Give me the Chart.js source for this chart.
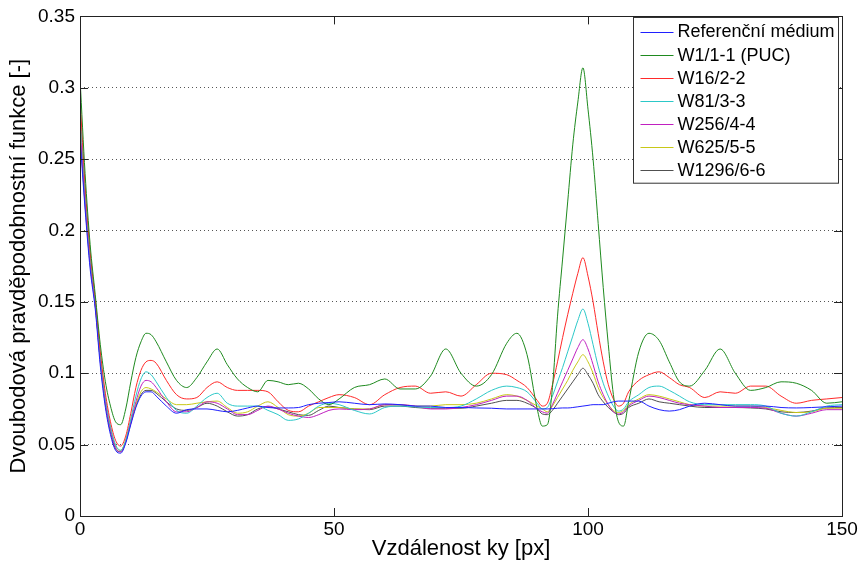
<!DOCTYPE html>
<html>
<head>
<meta charset="utf-8">
<script src="https://cdn.jsdelivr.net/npm/chart.js@4.4.1/dist/chart.umd.min.js"></script>
<style>
  html, body { margin: 0; padding: 0; background: #fff; }
  canvas { display: block; }
</style>
</head>
<body>
<canvas id="chart" width="860" height="568"></canvas>
<script>
// distance ky [px] where values were read
const ky = [0,1,2,3,4,5,6,7,8,9,10,11,12,13,14,15,
  17,19,21,23,25,27,29,31,33,35,37,39,41,43,45,47,49,51,
  54,57,60,63,66,69,72,75,78,81,84,
  86,88,90,
  91,92,93,94,95,96,97,98,99,100,101,102,103,104,105,106,107,108,
  110,112,114,116,118,120,
  123,126,129,132,135,138,141,144,147,150];

const refMedium = [0.265,0.215,0.173,0.145,0.105,0.076,0.057,0.046,0.044,0.051,0.064,0.076,0.084,0.087,0.087,0.084,
  0.077,0.072,0.0745,0.075,0.075,0.074,0.073,0.074,0.0757,0.077,0.076,0.0757,0.0757,0.076,0.078,0.079,0.0795,0.080,
  0.079,0.078,0.0785,0.078,0.077,0.077,0.076,0.076,0.0757,0.0755,0.075,
  0.075,0.075,0.075,
  0.075,0.075,0.0752,0.0755,0.0757,0.0757,0.076,0.0765,0.077,0.0775,0.078,0.078,0.078,0.079,0.080,0.0805,0.0805,0.0805,
  0.0805,0.077,0.0745,0.0735,0.0745,0.077,
  0.079,0.078,0.077,0.077,0.077,0.076,0.0757,0.076,0.0765,0.077];

const w1 = [0.307,0.24,0.19,0.155,0.12,0.094,0.077,0.066,0.064,0.075,0.094,0.111,0.122,0.128,0.127,0.122,
  0.108,0.095,0.090,0.097,0.108,0.117,0.106,0.096,0.090,0.087,0.095,0.094,0.092,0.093,0.089,0.082,0.078,0.082,
  0.090,0.092,0.096,0.089,0.089,0.098,0.117,0.100,0.091,0.099,0.121,
  0.128,0.113,0.075,
  0.063,0.064,0.09,0.14,0.18,0.22,0.26,0.29,0.314,0.285,0.25,0.205,0.16,0.12,0.085,0.066,0.063,0.08,
  0.115,0.128,0.123,0.108,0.094,0.091,
  0.102,0.117,0.100,0.088,0.090,0.094,0.093,0.088,0.079,0.080];

const w16 = [0.293,0.232,0.185,0.152,0.115,0.086,0.066,0.053,0.049,0.056,0.072,0.090,0.102,0.108,0.109,0.107,
  0.095,0.085,0.082,0.083,0.090,0.094,0.090,0.088,0.088,0.088,0.087,0.080,0.074,0.073,0.077,0.080,0.083,0.085,
  0.083,0.078,0.085,0.090,0.091,0.086,0.087,0.084,0.092,0.100,0.099,
  0.095,0.090,0.081,
  0.077,0.079,0.092,0.108,0.125,0.141,0.156,0.170,0.181,0.168,0.150,0.128,0.108,0.092,0.082,0.077,0.079,0.087,
  0.095,0.099,0.101,0.097,0.092,0.090,
  0.083,0.087,0.086,0.091,0.091,0.084,0.079,0.081,0.082,0.083];

const w81 = [0.285,0.228,0.182,0.150,0.112,0.083,0.063,0.050,0.046,0.053,0.068,0.084,0.096,0.101,0.099,0.094,
  0.083,0.074,0.072,0.077,0.083,0.086,0.079,0.077,0.077,0.077,0.074,0.071,0.067,0.068,0.072,0.077,0.079,0.078,
  0.074,0.0715,0.076,0.077,0.0765,0.076,0.076,0.077,0.082,0.088,0.091,
  0.090,0.087,0.079,
  0.075,0.076,0.084,0.094,0.104,0.115,0.126,0.137,0.145,0.135,0.12,0.105,0.093,0.084,0.077,0.0735,0.075,0.080,
  0.085,0.090,0.091,0.088,0.084,0.080,
  0.078,0.078,0.078,0.078,0.077,0.072,0.070,0.073,0.077,0.078];

const w256 = [0.275,0.222,0.178,0.148,0.110,0.080,0.061,0.048,0.045,0.052,0.066,0.080,0.091,0.095,0.094,0.090,
  0.080,0.073,0.073,0.076,0.080,0.079,0.075,0.071,0.071,0.074,0.077,0.075,0.072,0.070,0.069,0.071,0.074,0.075,
  0.0745,0.075,0.078,0.078,0.077,0.075,0.075,0.076,0.078,0.081,0.084,
  0.084,0.081,0.075,
  0.073,0.072,0.078,0.086,0.094,0.102,0.110,0.118,0.1235,0.117,0.106,0.094,0.085,0.078,0.073,0.0715,0.073,0.077,
  0.081,0.084,0.083,0.081,0.079,0.078,
  0.077,0.076,0.076,0.076,0.0755,0.072,0.070,0.072,0.0745,0.0745];

const w625 = [0.280,0.225,0.180,0.149,0.110,0.080,0.061,0.049,0.046,0.053,0.066,0.078,0.087,0.090,0.089,0.087,
  0.082,0.078,0.078,0.079,0.080,0.0805,0.076,0.072,0.073,0.077,0.080,0.076,0.071,0.070,0.072,0.076,0.076,0.076,
  0.075,0.075,0.078,0.078,0.077,0.077,0.078,0.078,0.079,0.082,0.085,
  0.084,0.081,0.077,
  0.075,0.073,0.077,0.083,0.089,0.095,0.102,0.108,0.113,0.108,0.100,0.090,0.083,0.078,0.074,0.0725,0.074,0.078,
  0.082,0.085,0.084,0.082,0.080,0.078,
  0.077,0.077,0.077,0.077,0.076,0.074,0.0725,0.073,0.0755,0.0755];

const w1296 = [0.270,0.218,0.176,0.147,0.108,0.078,0.059,0.047,0.045,0.052,0.065,0.077,0.085,0.088,0.088,0.086,
  0.080,0.075,0.074,0.076,0.079,0.077,0.073,0.070,0.071,0.075,0.0765,0.075,0.073,0.071,0.0705,0.074,0.077,0.076,
  0.075,0.0745,0.077,0.077,0.076,0.0755,0.0755,0.0755,0.077,0.079,0.081,
  0.081,0.079,0.075,
  0.0715,0.071,0.074,0.079,0.084,0.089,0.094,0.099,0.1035,0.099,0.093,0.085,0.080,0.076,0.073,0.071,0.072,0.076,
  0.079,0.082,0.080,0.079,0.078,0.077,
  0.076,0.076,0.076,0.0757,0.075,0.073,0.0725,0.0735,0.0757,0.076];

const seriesNames = ['Referenční médium','W1/1-1 (PUC)','W16/2-2','W81/3-3','W256/4-4','W625/5-5','W1296/6-6'];
const seriesValues = [refMedium, w1, w16, w81, w256, w625, w1296];
const seriesColors = ['#2020ff','#1f8a1f','#ff2a2a','#2cc8c8','#c020c0','#c8c818','#505050'];

const xTicks = ['0','50','100','150'];
const yTicks = ['0','0.05','0.1','0.15','0.2','0.25','0.3','0.35'];
const yTitle = 'Dvoubodová pravděpodobnostní funkce [-]';

const FONT = "'Liberation Sans', Arial, sans-serif";

// matlab style box, inside ticks, y title and legend
const axesBox = {
  id: 'axesBox',
  afterDraw(chart) {
    const { ctx, chartArea: a, scales } = chart;
    ctx.save();
    ctx.strokeStyle = '#222';
    ctx.lineWidth = 1;
    ctx.beginPath();
    xTicks.forEach(t => {
      const px = Math.round(scales.x.getPixelForValue(Number(t))) + 0.5;
      ctx.moveTo(px, a.bottom); ctx.lineTo(px, a.bottom - 8);
      ctx.moveTo(px, a.top); ctx.lineTo(px, a.top + 8);
    });
    yTicks.forEach(t => {
      const py = Math.round(scales.y.getPixelForValue(Number(t))) + 0.5;
      ctx.moveTo(a.left, py); ctx.lineTo(a.left + 8, py);
      ctx.moveTo(a.right, py); ctx.lineTo(a.right - 8, py);
    });
    ctx.stroke();
    ctx.strokeRect(Math.round(a.left) + 0.5, Math.round(a.top) + 0.5,
      Math.round(a.right - a.left), Math.round(a.bottom - a.top));

    // y title
    ctx.save();
    ctx.translate(19, (a.top + a.bottom) / 2);
    ctx.rotate(-Math.PI / 2);
    ctx.font = '22px ' + FONT;
    ctx.fillStyle = '#000';
    ctx.textAlign = 'center';
    ctx.textBaseline = 'middle';
    ctx.fillText(yTitle, 0, 0);
    ctx.restore();

    // legend
    const lx = 633.5, ly = 17.5, lw = 205, rowH = 23.1;
    const lh = rowH * seriesNames.length + 4;
    ctx.fillStyle = '#fff';
    ctx.fillRect(lx, ly, lw, lh);
    ctx.strokeStyle = '#333';
    ctx.strokeRect(lx, ly, lw, lh);
    ctx.font = '18px ' + FONT;
    ctx.textBaseline = 'middle';
    chart.data.datasets.forEach((ds, i) => {
      const cy = ly + 14 + i * rowH;
      ctx.strokeStyle = ds.borderColor;
      ctx.lineWidth = 1;
      ctx.beginPath();
      ctx.moveTo(lx + 7, Math.round(cy) + 0.5);
      ctx.lineTo(lx + 40, Math.round(cy) + 0.5);
      ctx.stroke();
      ctx.fillStyle = '#000';
      ctx.fillText(ds.label, lx + 44, cy + 1);
    });
    ctx.restore();
  }
};

const datasets = seriesNames.map((name, i) => ({
  label: name,
  data: ky.map((x, j) => ({ x: x, y: seriesValues[i][j] })),
  borderColor: seriesColors[i],
  borderWidth: 1,
  pointRadius: 0,
  fill: false,
  cubicInterpolationMode: 'monotone'
}));

new Chart(document.getElementById('chart'), {
  type: 'line',
  data: { datasets: datasets },
  options: {
    responsive: false,
    animation: false,
    layout: { padding: { top: 12, right: 18, left: 0, bottom: 0 } },
    plugins: { legend: { display: false }, tooltip: { enabled: false } },
    scales: {
      x: {
        type: 'linear', min: 0, max: 150,
        grid: { display: false },
        border: { display: false },
        ticks: {
          stepSize: 50, maxRotation: 0, padding: -6, color: '#000',
          font: { family: FONT, size: 19 },
          callback: v => xTicks[xTicks.indexOf(String(v))] ?? ''
        },
        title: {
          display: true, text: 'Vzdálenost ky [px]', color: '#000',
          font: { family: FONT, size: 22 }, padding: { top: 0, bottom: 6 }
        },
        afterFit: s => { s.height = 52; }
      },
      y: {
        min: 0, max: 0.35,
        grid: { color: '#555', lineWidth: 1, drawTicks: false },
        border: { display: false, dash: [1, 3] },
        ticks: {
          stepSize: 0.05, padding: 5, color: '#000',
          font: { family: FONT, size: 19 },
          callback: v => yTicks[Math.round(v / 0.05)]
        },
        afterFit: s => { s.width = 80; }
      }
    }
  },
  plugins: [axesBox]
});
</script>
</body>
</html>
